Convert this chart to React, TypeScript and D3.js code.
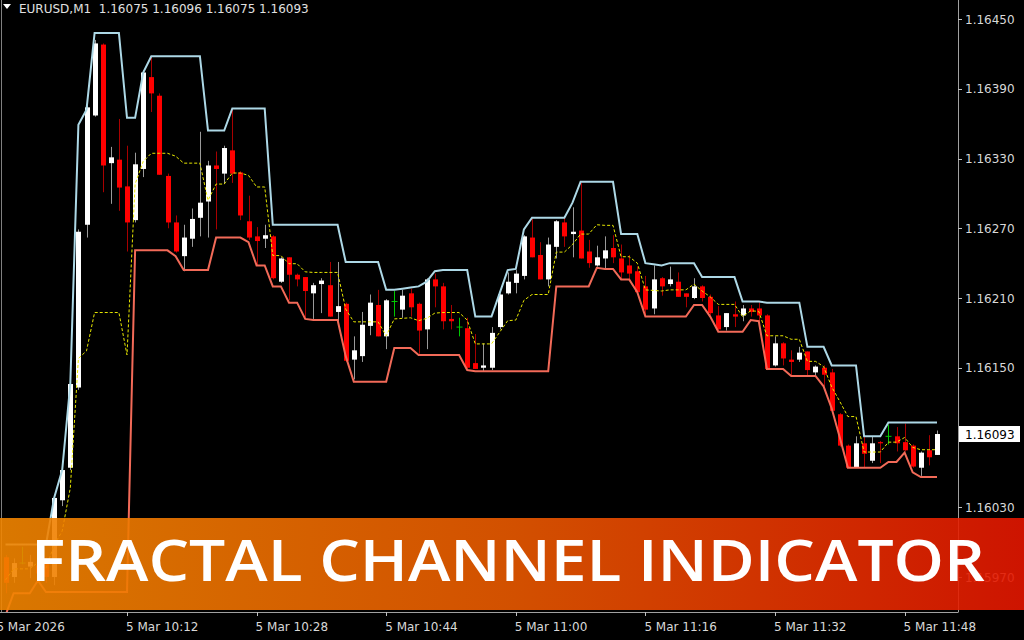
import React from "react";
import * as d3 from "d3";

const symbolTitle = "EURUSD,M1";
const headerValues = ["1.16075", "1.16096", "1.16075", "1.16093"];
const firstIndex = -15; // minutes relative to 10:12
const lastPrice = 1.16093;
const bannerTitle = "FRACTAL CHANNEL INDICATOR";

const openPrices = [
  1.15987, 1.1597, 1.15982, 1.15979, 1.1598, 1.15982, 1.1597, 1.16036, 1.16064, 1.16133,
  1.16273, 1.16367, 1.16428, 1.16326, 1.16329, 1.16306, 1.16277, 1.16321, 1.164, 1.16384,
  1.16315, 1.16275, 1.16246, 1.16261, 1.16279, 1.16293, 1.16324, 1.16317, 1.16337, 1.16318,
  1.16276, 1.16263, 1.16261, 1.16263, 1.16224, 1.16245, 1.1623, 1.16228, 1.16214, 1.16222,
  1.16221, 1.16198, 1.16205, 1.16157, 1.1616, 1.16186, 1.16204, 1.16177, 1.16207, 1.162,
  1.16214, 1.16205, 1.16183, 1.16226, 1.1622, 1.16192, 1.16185, 1.16184, 1.16154, 1.1615,
  1.1615, 1.16185, 1.16214, 1.16223, 1.16229, 1.16262, 1.16247, 1.16226, 1.16254, 1.16275,
  1.16265, 1.16268, 1.1625, 1.16238, 1.16244, 1.16253, 1.16244, 1.16238, 1.16233, 1.1622,
  1.16201, 1.16227, 1.16222, 1.16224, 1.16214, 1.1621, 1.1622, 1.16211, 1.16195, 1.16185,
  1.16196, 1.16195, 1.16201, 1.16201, 1.16195, 1.16152, 1.16171, 1.16157, 1.16157, 1.16164,
  1.16146, 1.1615, 1.16146, 1.1611, 1.16083, 1.16064, 1.16085, 1.1607, 1.16086, 1.16091,
  1.16091, 1.16086, 1.16083, 1.16064, 1.16079, 1.16075,
];
const highPrices = [
  1.15989, 1.15986, 1.15996, 1.15989, 1.15985, 1.15987, 1.16038, 1.16062, 1.16136, 1.16269,
  1.16376, 1.16432, 1.16429, 1.1634, 1.16364, 1.16341, 1.16335, 1.16406, 1.16418, 1.16386,
  1.16317, 1.16281, 1.16273, 1.16287, 1.16353, 1.16328, 1.16336, 1.16341, 1.16373, 1.16319,
  1.16298, 1.16271, 1.16273, 1.16264, 1.16245, 1.16245, 1.16231, 1.16228, 1.16223, 1.16227,
  1.16241, 1.16241, 1.16206, 1.16177, 1.16198, 1.16213, 1.16217, 1.16209, 1.16216, 1.16217,
  1.16218, 1.16206, 1.16227, 1.16231, 1.16223, 1.16204, 1.16193, 1.16193, 1.16179, 1.16171,
  1.16185, 1.16214, 1.16232, 1.16234, 1.16264, 1.16278, 1.16258, 1.16262, 1.16277, 1.16279,
  1.16288, 1.16309, 1.1626, 1.16255, 1.16263, 1.16264, 1.16256, 1.16247, 1.16237, 1.16229,
  1.16238, 1.16228, 1.16237, 1.16232, 1.16214, 1.16227, 1.16221, 1.16213, 1.16203, 1.16197,
  1.16207, 1.16204, 1.16204, 1.16206, 1.16196, 1.16177, 1.16172, 1.16165, 1.16168, 1.16164,
  1.16152, 1.16152, 1.16149, 1.16111, 1.16084, 1.16091, 1.16091, 1.16091, 1.16087, 1.16101,
  1.16099, 1.16102, 1.16084, 1.16078, 1.16092, 1.16096,
];
const lowPrices = [
  1.15956, 1.15965, 1.15981, 1.15969, 1.15968, 1.15965, 1.15963, 1.16031, 1.16062, 1.16131,
  1.16262, 1.16366, 1.16301, 1.16291, 1.16285, 1.1625, 1.16275, 1.16314, 1.1637, 1.16316,
  1.1627, 1.16249, 1.16233, 1.16254, 1.16263, 1.16262, 1.16269, 1.16308, 1.16309, 1.16277,
  1.1626, 1.16238, 1.16253, 1.16226, 1.16223, 1.16208, 1.1622, 1.16193, 1.16192, 1.16197,
  1.16194, 1.1619, 1.16155, 1.1614, 1.16155, 1.16178, 1.16177, 1.16166, 1.16194, 1.16193,
  1.16194, 1.16162, 1.16166, 1.16202, 1.16183, 1.16183, 1.16177, 1.16149, 1.16149, 1.16147,
  1.16148, 1.16183, 1.16213, 1.16214, 1.16226, 1.16245, 1.16226, 1.1622, 1.16244, 1.16254,
  1.16245, 1.16244, 1.16236, 1.16237, 1.16235, 1.1624, 1.16226, 1.16226, 1.16214, 1.16194,
  1.16196, 1.16212, 1.1622, 1.16211, 1.16202, 1.16209, 1.16207, 1.16195, 1.16182, 1.16182,
  1.16185, 1.1619, 1.16194, 1.1619, 1.16148, 1.16151, 1.16152, 1.16143, 1.16155, 1.16143,
  1.16143, 1.16134, 1.16112, 1.16082, 1.16064, 1.16064, 1.16064, 1.16068, 1.16068, 1.16084,
  1.16078, 1.16078, 1.16064, 1.16057, 1.16066, 1.16075,
];
const closePrices = [
  1.15965, 1.15982, 1.15982, 1.15983, 1.15973, 1.1597, 1.16038, 1.16062, 1.16136, 1.16267,
  1.16374, 1.16429, 1.16324, 1.16331, 1.16305, 1.16275, 1.16325, 1.16404, 1.16386, 1.16316,
  1.16275, 1.1625, 1.16262, 1.16278, 1.16292, 1.16324, 1.16321, 1.16339, 1.16317, 1.16281,
  1.16262, 1.16259, 1.16264, 1.16227, 1.16244, 1.1623, 1.16226, 1.16216, 1.16221, 1.16225,
  1.16194, 1.16203, 1.16156, 1.16165, 1.16187, 1.16206, 1.16177, 1.16208, 1.16207, 1.16212,
  1.16202, 1.16182, 1.16226, 1.1622, 1.1619, 1.1619, 1.16185, 1.1615, 1.16149, 1.16152,
  1.1618, 1.16213, 1.16224, 1.16231, 1.16263, 1.16245, 1.16226, 1.16256, 1.16276, 1.16263,
  1.16267, 1.16244, 1.1624, 1.16245, 1.16251, 1.16245, 1.16232, 1.16231, 1.16215, 1.162,
  1.16226, 1.1622, 1.16226, 1.16211, 1.16211, 1.1622, 1.1621, 1.16197, 1.16183, 1.16197,
  1.16194, 1.16201, 1.16198, 1.16195, 1.16149, 1.16171, 1.16158, 1.16155, 1.16163, 1.16148,
  1.16151, 1.16144, 1.16113, 1.16083, 1.16064, 1.16085, 1.16076, 1.16085, 1.16085, 1.16091,
  1.16085, 1.16079, 1.16065, 1.16077, 1.16073, 1.16093,
];
const upperChannel = [
  1.15998, 1.15998, 1.15998, 1.15998, 1.15998, 1.15998, 1.16038, 1.16062, 1.16136, 1.16359,
  1.16372, 1.16438, 1.16438, 1.16438, 1.16438, 1.16365, 1.16365, 1.16404, 1.16418, 1.16418,
  1.16418, 1.16418, 1.16418, 1.16418, 1.16418, 1.16354, 1.16354, 1.16354, 1.16373, 1.16373,
  1.16373, 1.16373, 1.16373, 1.16273, 1.16273, 1.16273, 1.16273, 1.16273, 1.16273, 1.16273,
  1.16273, 1.16273, 1.16241, 1.16241, 1.16241, 1.16241, 1.16241, 1.16217, 1.16217, 1.16218,
  1.16219, 1.1622, 1.16224, 1.16233, 1.16234, 1.16234, 1.16234, 1.16234, 1.16194, 1.16194,
  1.16194, 1.16214, 1.16234, 1.16235, 1.16269, 1.16279, 1.16279, 1.16279, 1.16279, 1.16279,
  1.16292, 1.1631, 1.1631, 1.1631, 1.1631, 1.1631, 1.16265, 1.16265, 1.16265, 1.1624,
  1.16239, 1.16238, 1.1624, 1.1624, 1.1624, 1.1624, 1.16228, 1.16228, 1.16228, 1.16228,
  1.16228, 1.16207, 1.16207, 1.16207, 1.16206, 1.16206, 1.16206, 1.16206, 1.16206, 1.16168,
  1.16168, 1.16168, 1.16152, 1.16152, 1.16152, 1.16152, 1.16091, 1.16091, 1.16091, 1.16103,
  1.16103, 1.16103, 1.16103, 1.16103, 1.16103, 1.16103,
];
const lowerChannel = [
  1.15937, 1.15956, 1.15956, 1.15956, 1.15967, 1.15957, 1.15957, 1.15957, 1.15957, 1.15957,
  1.15957, 1.15957, 1.15957, 1.15957, 1.15957, 1.15957, 1.16251, 1.16251, 1.16251, 1.16251,
  1.16251, 1.16246, 1.16234, 1.16234, 1.16234, 1.16234, 1.16262, 1.16262, 1.16262, 1.16262,
  1.16258, 1.16238, 1.16238, 1.1622, 1.1622, 1.16206, 1.16206, 1.16192, 1.16191, 1.16191,
  1.16191, 1.16191, 1.1616, 1.16138, 1.16138, 1.16138, 1.16138, 1.16138, 1.16167, 1.16167,
  1.16167, 1.16161, 1.16161, 1.16161, 1.16161, 1.16161, 1.16161, 1.16148, 1.16147, 1.16147,
  1.16147, 1.16147, 1.16147, 1.16147, 1.16147, 1.16147, 1.16147, 1.16147, 1.1622, 1.1622,
  1.1622, 1.1622, 1.1622, 1.16236, 1.16235, 1.16235, 1.16226, 1.16226, 1.16215, 1.16194,
  1.16194, 1.16194, 1.16194, 1.16194, 1.16194, 1.16204, 1.16204, 1.16194, 1.16181, 1.16181,
  1.16181, 1.16181, 1.16191, 1.1619, 1.16149, 1.16149, 1.16149, 1.16143, 1.16143, 1.16143,
  1.16143, 1.16134, 1.16115, 1.1609, 1.16064, 1.16064, 1.16064, 1.16064, 1.16064, 1.16069,
  1.16069, 1.16077, 1.1606, 1.16056, 1.16056, 1.16056,
];

const priceTicks = [1.1645, 1.1639, 1.1633, 1.1627, 1.1621, 1.1615, 1.1603, 1.1597];
const timeTickIndex = [-16, 0, 16, 32, 48, 64, 80, 96];
const timeTickLabels = [
  "5 Mar 2026", "5 Mar 10:12", "5 Mar 10:28", "5 Mar 10:44",
  "5 Mar 11:00", "5 Mar 11:16", "5 Mar 11:32", "5 Mar 11:48",
];

const W = 1024;
const H = 640;
const plotRight = 958;
const plotBottom = 612;
const FONT = "'DejaVu Sans', Verdana, sans-serif";

export default function App() {
  const x = d3.scaleLinear().domain([0, 100]).range([127, 937]);
  const y = d3.scaleLinear().domain([1.1597, 1.1645]).range([577, 19]);
  const midChannel = upperChannel.map((u, i) => (u + lowerChannel[i]) / 2);
  const line = d3
    .line<number>()
    .x((_, i) => x(firstIndex + i))
    .y((v) => y(v));

  const candles = openPrices.map((o, i) => {
    const c = closePrices[i];
    const h = highPrices[i];
    const l = lowPrices[i];
    const cx = Math.round(x(firstIndex + i)) + 0.5;
    const kind = c > o ? "up" : c < o ? "down" : "doji";
    const wickColor = kind === "up" ? "#9a9a9a" : kind === "down" ? "#a80000" : "#00c800";
    const top = y(Math.max(o, c));
    const bot = y(Math.min(o, c));
    return (
      <g key={i}>
        <line x1={cx} x2={cx} y1={y(h)} y2={y(l)} stroke={wickColor} strokeWidth={1} />
        {kind === "doji" ? (
          <line x1={cx - 3} x2={cx + 3} y1={top} y2={top} stroke="#00c800" strokeWidth={1} />
        ) : (
          <rect
            x={cx - 2.5}
            y={top}
            width={5}
            height={Math.max(1, bot - top)}
            fill={kind === "up" ? "#ffffff" : "#ff0000"}
          />
        )}
      </g>
    );
  });

  return (
    <svg
      width={W}
      height={H}
      style={{ position: "fixed", left: 0, top: 0, background: "#000", display: "block" }}
    >
      <defs>
        <clipPath id="plotClip">
          <rect x={2} y={0} width={plotRight - 2} height={plotBottom} />
        </clipPath>
        <linearGradient id="bannerGrad" x1="0" x2="1" y1="0" y2="0">
          <stop offset="0" stopColor="#f18500" />
          <stop offset="0.5" stopColor="#e95900" />
          <stop offset="1" stopColor="#e41600" />
        </linearGradient>
      </defs>
      <rect x={0} y={0} width={W} height={H} fill="#000" />

      <g clipPath="url(#plotClip)">
        {candles}
        <path d={line(upperChannel) || ""} fill="none" stroke="#add8e6" strokeWidth={2} />
        <path d={line(lowerChannel) || ""} fill="none" stroke="#f26a58" strokeWidth={2} />
        <path
          d={line(midChannel) || ""}
          fill="none"
          stroke="#e8e800"
          strokeWidth={1}
          strokeDasharray="3,2"
        />
      </g>

      {/* frame */}
      <line x1={1.5} x2={1.5} y1={0} y2={plotBottom} stroke="#808080" />
      <line x1={plotRight + 0.5} x2={plotRight + 0.5} y1={0} y2={plotBottom + 0.5} stroke="#a0a0a0" />
      <line x1={0} x2={plotRight} y1={plotBottom + 0.5} y2={plotBottom + 0.5} stroke="#a0a0a0" />

      {/* price axis */}
      {priceTicks.map((p) => (
        <g key={p}>
          <line x1={plotRight} x2={plotRight + 4} y1={Math.round(y(p)) + 0.5} y2={Math.round(y(p)) + 0.5} stroke="#c0c0c0" />
          <text x={965} y={y(p) + 4.5} fill="#d8d8d8" fontSize={12} fontFamily={FONT}>
            {d3.format(".5f")(p)}
          </text>
        </g>
      ))}
      <rect x={959} y={y(lastPrice) - 8} width={61} height={16} fill="#ffffff" />
      <text x={965} y={y(lastPrice) + 4.5} fill="#000" fontSize={12} fontFamily={FONT}>
        {d3.format(".5f")(lastPrice)}
      </text>

      {/* time axis */}
      {timeTickIndex.map((k, i) => (
        <g key={k}>
          <line x1={Math.round(x(k)) + 0.5} x2={Math.round(x(k)) + 0.5} y1={plotBottom} y2={plotBottom + 4} stroke="#c0c0c0" />
          <text x={x(k) - 1} y={631} fill="#d8d8d8" fontSize={12} fontFamily={FONT}>
            {timeTickLabels[i]}
          </text>
        </g>
      ))}

      {/* header */}
      <path d="M3,4 L11,4 L7,9 Z" fill="#ffffff" />
      <text x={19} y={13} fill="#e0e0e0" fontSize={12} fontFamily={FONT} xmlSpace="preserve">
        {symbolTitle + "  " + headerValues.join(" ")}
      </text>

      {/* banner */}
      <rect x={0} y={518} width={W} height={92} fill="url(#bannerGrad)" fillOpacity={0.9} />
      <text
        x={508}
        y={581}
        textAnchor="middle"
        fill="#ffffff"
        fontSize={57}
        fontWeight={600}
        fontFamily="'Open Sans', 'Noto Sans', sans-serif"
        textLength={954}
        lengthAdjust="spacingAndGlyphs"
      >
        {bannerTitle}
      </text>
    </svg>
  );
}
